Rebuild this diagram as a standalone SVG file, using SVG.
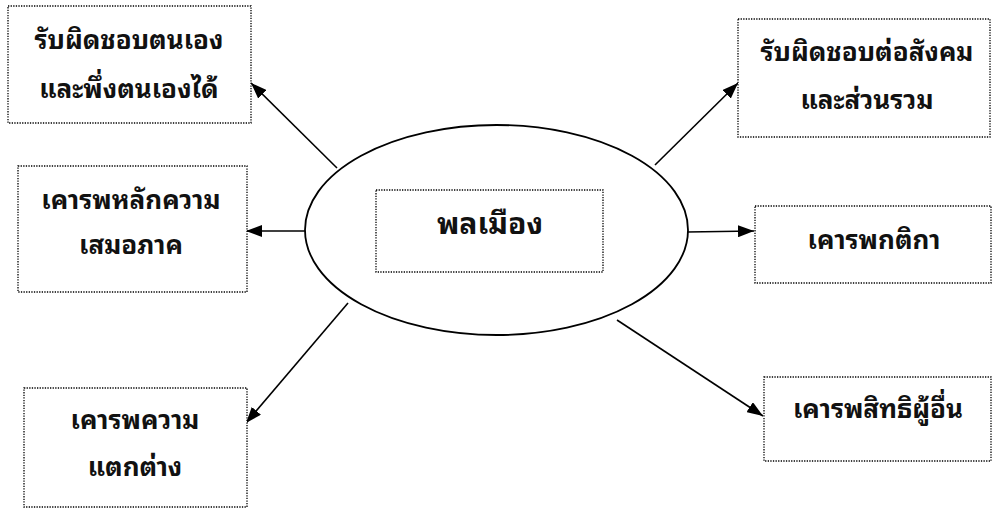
<svg xmlns="http://www.w3.org/2000/svg" width="992" height="508" viewBox="0 0 992 508">
<style>
.box{fill:#fff;stroke:#000;stroke-width:1.3;stroke-dasharray:1.3,1.3}
.t{font-family:"Noto Sans Thai Looped","Noto Sans Thai","Noto Sans","DejaVu Sans",sans-serif;font-weight:bold;font-size:26px;fill:#111;text-anchor:middle}
.big{font-size:30px}
.c{stroke:#000;stroke-width:1.6;fill:none;marker-end:url(#ah)}
</style>
<defs>
<marker id="ah" viewBox="0 0 16 12" refX="16" refY="6" markerWidth="16" markerHeight="12" markerUnits="userSpaceOnUse" orient="auto">
<path d="M0,0 L16,6 L0,12 Z" fill="#000"/>
</marker>
</defs>
<rect width="992" height="508" fill="#fff"/>
<g id="connectors">
<line class="c" x1="337" y1="168" x2="251" y2="83"/>
<line class="c" x1="305" y1="231" x2="246" y2="231"/>
<line class="c" x1="348" y1="303" x2="246" y2="423"/>
<line class="c" x1="655" y1="165" x2="738" y2="83"/>
<line class="c" x1="687" y1="232" x2="754" y2="231"/>
<line class="c" x1="617" y1="320" x2="763" y2="416"/>
</g>
<g id="center">
<ellipse cx="496.5" cy="230" rx="191.5" ry="105" fill="#fff" stroke="#000" stroke-width="1.8"/>
<rect class="box" x="376" y="190" width="227" height="82"/>
<text class="t big" x="490" y="234">พลเมือง</text>
</g>
<g id="n1">
<rect class="box" x="8" y="6" width="243" height="117"/>
<text class="t" x="129" y="49">รับผิดชอบตนเอง</text>
<text class="t" x="129" y="98">และพึ่งตนเองได้</text>
</g>
<g id="n2">
<rect class="box" x="18" y="166" width="229" height="126"/>
<text class="t" x="131" y="209">เคารพหลักความ</text>
<text class="t" x="131" y="254">เสมอภาค</text>
</g>
<g id="n3">
<rect class="box" x="24" y="388" width="223" height="119"/>
<text class="t" x="135" y="429">เคารพความ</text>
<text class="t" x="135" y="476">แตกต่าง</text>
</g>
<g id="n4">
<rect class="box" x="738" y="19" width="252" height="118"/>
<text class="t" x="867" y="61">รับผิดชอบต่อสังคม</text>
<text class="t" x="867" y="109">และส่วนรวม</text>
</g>
<g id="n5">
<rect class="box" x="755" y="206" width="236" height="77"/>
<text class="t" x="874" y="249">เคารพกติกา</text>
</g>
<g id="n6">
<rect class="box" x="764" y="377" width="227" height="84"/>
<text class="t" x="878" y="418">เคารพสิทธิผู้อื่น</text>
</g>
</svg>
